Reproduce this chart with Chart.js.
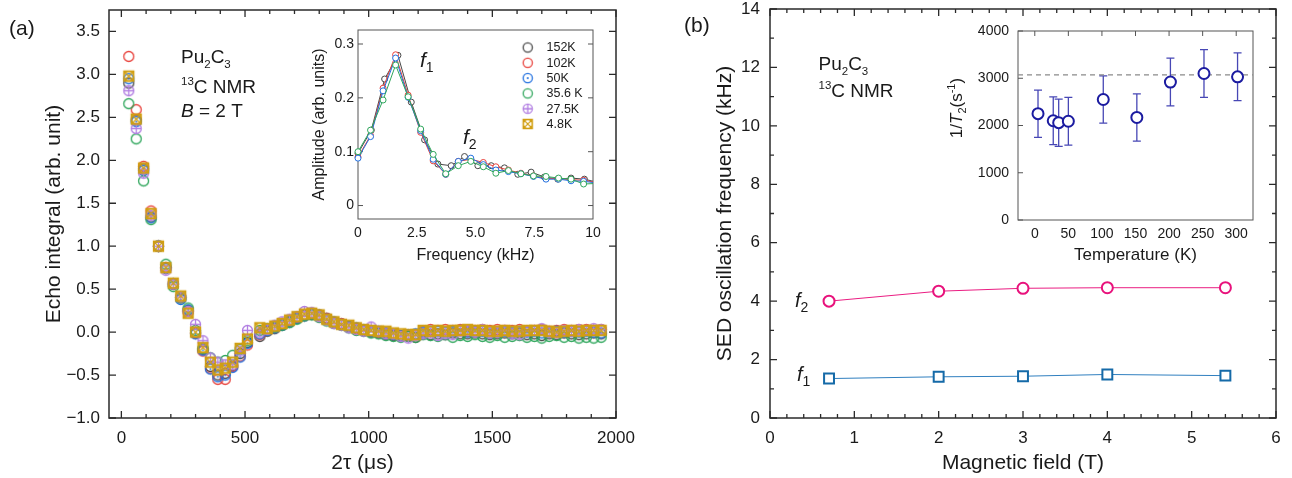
<!DOCTYPE html>
<html><head><meta charset="utf-8">
<script src="https://cdn.jsdelivr.net/npm/chart.js@4.4.1/dist/chart.umd.min.js"></script>
<style>
html,body{margin:0;padding:0;background:#fff;}
#wrap{position:relative;width:1292px;height:478px;overflow:hidden;background:#fff;}
canvas{position:absolute;}
</style></head><body>
<div id="wrap">
<canvas id="cA" width="640" height="478" style="left:0px;top:0px;width:640px;height:478px"></canvas>
<canvas id="cAi" width="311" height="255" style="left:290px;top:22px;width:311px;height:255px"></canvas>
<canvas id="cB" width="632" height="478" style="left:660px;top:0px;width:632px;height:478px"></canvas>
<canvas id="cBi" width="335" height="250" style="left:930px;top:20px;width:335px;height:250px"></canvas>
</div>
<script>
// ---------------- DATA ----------------
// Panel (a): echo integral vs 2tau (µs)
const tauUs = [30,60,90,120,150,180,210,240,270,300,330,360,390,420,450,480,510,
  560,590,620,650,680,710,740,770,800,830,860,890,920,950,980,1010,1040,1070,1100,1130,1160,1190,
  1220,1250,1280,1310,1340,1370,1400,1430,1460,1490,1520,1550,1580,1610,1640,1670,1700,1730,1760,
  1790,1820,1850,1880,1910,1940];
const temps = ['152K','102K','50K','35.6 K','27.5K','4.8K'];
const echo152 = [2.90,2.47,1.90,1.34,1.00,0.75,0.56,0.40,0.25,-0.01,-0.20,-0.40,-0.50,-0.48,-0.39,-0.25,-0.12,
  -0.05,0.01,0.04,0.08,0.12,0.16,0.19,0.21,0.20,0.16,0.11,0.09,0.06,0.04,0.02,0.00,-0.01,-0.03,-0.04,-0.05,-0.05,-0.06,
  -0.02,-0.03,-0.02,-0.03,-0.01,-0.02,-0.02,-0.01,-0.02,-0.03,-0.02,-0.01,-0.02,-0.01,-0.03,-0.02,-0.04,-0.02,-0.03,
  -0.01,-0.02,-0.03,-0.02,-0.01,-0.02];
const echo102 = [3.21,2.59,1.93,1.41,1.00,0.75,0.56,0.40,0.24,-0.01,-0.22,-0.42,-0.55,-0.55,-0.40,-0.28,-0.15,
  -0.03,0.03,0.06,0.09,0.13,0.17,0.20,0.21,0.19,0.16,0.11,0.10,0.06,0.04,0.02,0.01,0.00,-0.01,-0.03,-0.04,-0.04,-0.03,
  0.01,0.03,0.02,0.03,0.02,0.03,0.01,0.02,0.03,0.02,0.03,0.02,0.02,0.03,0.01,0.02,0.03,0.01,0.02,
  0.03,0.02,0.03,0.03,0.02,0.03];
const echo50 = [2.95,2.45,1.88,1.33,1.00,0.74,0.56,0.38,0.26,-0.02,-0.21,-0.43,-0.52,-0.50,-0.41,-0.29,-0.13,
  -0.02,0.02,0.05,0.08,0.12,0.16,0.19,0.21,0.19,0.15,0.12,0.09,0.07,0.05,0.03,0.01,0.01,-0.01,-0.03,-0.04,-0.03,-0.02,
  0.00,0.01,0.01,0.00,0.01,0.02,0.00,0.01,0.01,-0.01,0.00,0.01,0.00,0.01,0.00,0.01,-0.01,0.00,0.01,
  0.00,0.01,0.00,0.01,0.00,-0.01];
const echo35 = [2.66,2.25,1.76,1.31,1.00,0.79,0.53,0.40,0.28,0.02,-0.19,-0.30,-0.35,-0.33,-0.27,-0.20,-0.10,
  0.02,0.04,0.06,0.08,0.11,0.15,0.19,0.20,0.17,0.13,0.10,0.08,0.05,0.02,0.01,-0.01,-0.02,-0.04,-0.05,-0.06,-0.05,-0.06,
  -0.03,-0.04,-0.05,-0.03,-0.06,-0.04,-0.05,-0.03,-0.05,-0.06,-0.04,-0.06,-0.05,-0.04,-0.06,-0.05,-0.07,-0.05,-0.04,
  -0.06,-0.05,-0.07,-0.06,-0.07,-0.06];
const echo27 = [2.81,2.37,1.85,1.36,1.00,0.72,0.56,0.41,0.24,0.09,-0.10,-0.30,-0.35,-0.38,-0.38,-0.22,0.02,
  0.00,0.03,0.08,0.12,0.15,0.18,0.24,0.23,0.18,0.14,0.10,0.08,0.05,0.03,0.01,0.06,0.01,-0.02,-0.02,-0.05,-0.07,-0.04,
  -0.02,-0.01,-0.04,-0.02,-0.03,0.01,0.02,0.00,0.03,-0.01,0.00,0.02,-0.02,-0.03,0.01,0.02,0.04,0.00,-0.01,
  0.02,0.01,0.03,0.02,0.04,0.03];
const echo4 = [2.98,2.48,1.91,1.38,1.00,0.75,0.57,0.42,0.22,0.00,-0.18,-0.35,-0.44,-0.42,-0.35,-0.19,-0.08,
  0.05,0.04,0.07,0.10,0.14,0.18,0.21,0.22,0.20,0.15,0.12,0.09,0.08,0.05,0.03,0.02,0.01,0.01,-0.01,-0.02,-0.03,-0.03,
  0.02,0.01,0.02,0.01,0.02,0.02,0.03,0.02,0.02,0.01,0.01,0.02,0.01,0.01,0.02,0.02,0.02,0.01,0.00,
  0.01,0.02,0.01,0.02,0.02,0.02];
const xTicksA = [0,500,1000,1500,2000];
const xTickLabelsA = ['0','500','1000','1500','2000'];
const yTicksA = [-1,-0.5,0,0.5,1,1.5,2,2.5,3,3.5];
const yTickLabelsA = ['\u22121.0','\u22120.5','0.0','0.5','1.0','1.5','2.0','2.5','3.0','3.5'];

// Inset (a): FFT amplitude vs frequency (kHz)
const freqK = [0,0.533,1.067,1.6,2.133,2.667,3.2,3.733,4.267,4.8,5.333,5.867,6.4,6.933,7.467,8.0,8.533,9.067,9.6,10.133];
const freq152 = [0,0.567,1.133,1.7,2.267,2.833,3.4,3.967,4.533,5.1,5.667,6.233,6.8,7.367,7.933,8.5,9.067,9.633,10.2];
const amp152 = [0.097,0.140,0.235,0.279,0.192,0.122,0.077,0.074,0.091,0.074,0.074,0.070,0.058,0.062,0.053,0.049,0.051,0.049,0.043];
const amp102 = [0.090,0.130,0.218,0.280,0.205,0.136,0.083,0.058,0.082,0.086,0.080,0.072,0.066,0.060,0.055,0.050,0.050,0.048,0.047,0.043];
const amp50  = [0.088,0.128,0.213,0.274,0.201,0.139,0.086,0.058,0.082,0.088,0.076,0.066,0.063,0.059,0.054,0.049,0.049,0.046,0.045,0.042];
const amp35  = [0.100,0.140,0.196,0.261,0.202,0.142,0.095,0.059,0.074,0.082,0.072,0.060,0.065,0.059,0.055,0.054,0.051,0.049,0.040,0.041];
const xTicksAi = [0,2.5,5,7.5,10];
const xTickLabelsAi = ['0','2.5','5.0','7.5','10'];
const yTicksAi = [0,0.1,0.2,0.3];
const yTickLabelsAi = ['0','0.1','0.2','0.3'];

// Panel (b): SED oscillation frequency vs field
const fieldT = [0.7,2,3,4,5.4];
const freqF2 = [4.00,4.34,4.44,4.46,4.46];
const freqF1 = [1.35,1.41,1.43,1.49,1.45];
const xTicksB = [0,1,2,3,4,5,6];
const yTicksB = [0,2,4,6,8,10,12,14];

// Inset (b): 1/T2 vs temperature
const tempK = [4.8,27.5,35.6,50,102,152,202,252,302];
const invT2 = [2250,2100,2060,2090,2550,2170,2920,3100,3030];
const invT2Err = [500,505,500,505,500,500,505,505,505];
const invT2Level = 3070;
const xTicksBi = [0,50,100,150,200,250,300];
const yTicksBi = [0,1000,2000,3000,4000];

// ---------------- STYLE / HELPERS ----------------
const FONT = '"Liberation Sans", Arial, Helvetica, sans-serif';
Chart.defaults.font.family = FONT;
Chart.defaults.color = '#1a1a1a';
const colors = ['#474747','#e8413b','#2170e0','#2fa65c','#b27fe2','#d19f12'];
const kinds = ['circle','circle','circleDot','circle','circlePlus','squareX'];

function makeMarker(kind, color, r, lw){
  const s = Math.ceil(2*r + lw + 3);
  const c = document.createElement('canvas'); c.width = s; c.height = s;
  const g = c.getContext('2d'); const m = s/2;
  g.strokeStyle = color; g.fillStyle = color; g.lineWidth = lw;
  if (kind === 'squareX') {
    g.beginPath(); g.rect(m-r, m-r, 2*r, 2*r); g.stroke();
    g.beginPath(); g.moveTo(m-r,m-r); g.lineTo(m+r,m+r); g.moveTo(m+r,m-r); g.lineTo(m-r,m+r); g.stroke();
    g.beginPath(); g.arc(m,m,r*0.95,0,2*Math.PI); g.stroke();
  } else {
    g.beginPath(); g.arc(m,m,r,0,2*Math.PI); g.stroke();
    if (kind === 'circleDot') { g.beginPath(); g.arc(m,m,Math.max(1,lw*0.8),0,2*Math.PI); g.fill(); }
    if (kind === 'circlePlus') { g.beginPath(); g.moveTo(m-r,m); g.lineTo(m+r,m); g.moveTo(m,m-r); g.lineTo(m,m+r); g.stroke(); }
  }
  return c;
}

const frameTicks = {
  id: 'frameTicks',
  beforeDatasetsDraw(chart, args, o) {
    const {ctx, chartArea: a, scales} = chart;
    ctx.save();
    ctx.strokeStyle = o.color; ctx.lineWidth = o.width;
    ctx.strokeRect(a.left, a.top, a.right - a.left, a.bottom - a.top);
    ctx.lineWidth = o.tickWidth || o.width;
    (o.sides || []).forEach(sd => {
      const sc = scales[sd.scale];
      const majors = sc.ticks.map(t => t.value);
      const vals = majors.map(v => [v, sd.len]);
      if (sd.minorStep) {
        const st = sd.minorStep;
        for (let v = Math.ceil(sc.min / st) * st; v <= sc.max + 1e-9; v += st) {
          if (!majors.some(m => Math.abs(m - v) < st * 1e-3)) vals.push([v, sd.minorLen]);
        }
      }
      ctx.beginPath();
      vals.forEach(([v, L]) => {
        const p = sc.getPixelForValue(v);
        if (sd.side === 'bottom') { ctx.moveTo(p, a.bottom); ctx.lineTo(p, a.bottom - L); }
        if (sd.side === 'top') { ctx.moveTo(p, a.top); ctx.lineTo(p, a.top + L); }
        if (sd.side === 'left') { ctx.moveTo(a.left, p); ctx.lineTo(a.left + L, p); }
        if (sd.side === 'right') { ctx.moveTo(a.right, p); ctx.lineTo(a.right - L, p); }
      });
      ctx.stroke();
    });
    ctx.restore();
  }
};

function drawRich(ctx, it) {
  ctx.save();
  ctx.translate(it.x, it.y);
  if (it.rotate) ctx.rotate(it.rotate);
  ctx.fillStyle = it.color || '#1a1a1a';
  ctx.textBaseline = 'alphabetic';
  ctx.textAlign = 'left';
  const size = it.size;
  const parts = it.parts.map(p => {
    const sz = p.pos === 'sub' || p.pos === 'sup' ? (p.sz || size * 0.6) : size;
    const font = (p.it ? 'italic ' : '') + sz + 'px ' + FONT;
    ctx.font = font;
    const w = ctx.measureText(p.t).width;
    const dy = p.pos === 'sub' ? (p.dy != null ? p.dy : size * 0.22) : p.pos === 'sup' ? -(p.dy != null ? p.dy : size * 0.36) : 0;
    return {t: p.t, font, w, dy};
  });
  let x = 0;
  if (it.align === 'center') x = -parts.reduce((s, p) => s + p.w, 0) / 2;
  parts.forEach(p => { ctx.font = p.font; ctx.fillText(p.t, x, p.dy); x += p.w; });
  ctx.restore();
}
const richText = {
  id: 'richText',
  afterDraw(chart, args, o) { (o.items || []).forEach(it => drawRich(chart.ctx, it)); }
};

const insetLegend = {
  id: 'insetLegend',
  afterDraw(chart, args, o) {
    const ctx = chart.ctx;
    ctx.save();
    ctx.font = o.size + 'px ' + FONT; ctx.fillStyle = '#1a1a1a';
    ctx.textBaseline = 'middle'; ctx.textAlign = 'left';
    o.labels.forEach((lab, i) => {
      const y = o.y + i * o.dy;
      const img = o.markers[i];
      ctx.drawImage(img, o.x - img.width / 2, y - img.height / 2);
      ctx.fillText(lab, o.tx, y + 0.5);
    });
    ctx.restore();
  }
};

const errorBars = {
  id: 'errorBars',
  beforeDatasetsDraw(chart, args, o) {
    const {ctx, scales: {x, y}} = chart;
    const ds = chart.data.datasets[o.dataset];
    ctx.save();
    ctx.strokeStyle = o.color; ctx.lineWidth = o.width;
    ctx.beginPath();
    ds.data.forEach((p, i) => {
      const px = x.getPixelForValue(p.x);
      const y1 = y.getPixelForValue(p.y - o.errors[i]);
      const y2 = y.getPixelForValue(p.y + o.errors[i]);
      ctx.moveTo(px, y1); ctx.lineTo(px, y2);
      ctx.moveTo(px - o.cap, y1); ctx.lineTo(px + o.cap, y1);
      ctx.moveTo(px - o.cap, y2); ctx.lineTo(px + o.cap, y2);
    });
    ctx.stroke();
    ctx.restore();
  }
};

function linAxis(opt) {
  return {
    type: 'linear', min: opt.min, max: opt.max, position: opt.position,
    afterBuildTicks: s => { s.ticks = opt.ticks.map(v => ({value: v})); },
    ticks: { font: {size: opt.font}, padding: opt.pad, autoSkip: false, maxRotation: 0, color: '#1a1a1a',
      callback: (v, i) => opt.labels ? opt.labels[i] : String(v) },
    grid: { display: false, drawTicks: false },
    border: { display: false },
    title: opt.title ? { display: true, text: opt.title, font: {size: opt.tsize}, color: '#1a1a1a',
      padding: opt.position === 'left' ? {top: opt.tpad, bottom: 0} : {top: 0, bottom: opt.tpad} } : {display: false},
    afterFit: s => {
      if (opt.position === 'left') s.width = opt.size; else s.height = opt.size;
      s.paddingLeft = 0; s.paddingRight = 0; s.paddingTop = 0; s.paddingBottom = 0;
    }
  };
}
const baseOpts = { responsive: false, animation: false, devicePixelRatio: 1, events: [] };

// ---------------- PANEL (a) ----------------
const echoSeries = [echo152, echo102, echo50, echo35, echo27, echo4];
const markersA = echoSeries.map((s, i) => makeMarker(kinds[i], colors[i], 5, 1.3));
new Chart(document.getElementById('cA'), {
  type: 'scatter',
  data: { datasets: echoSeries.map((s, i) => ({
    label: temps[i], data: tauUs.map((x, j) => ({x, y: s[j]})),
    pointStyle: markersA[i], pointRadius: 5, showLine: false, order: 6 - i
  })) },
  options: Object.assign({}, baseOpts, {
    layout: { padding: {left: 0, right: 24, top: 10, bottom: 0} },
    plugins: {
      legend: {display: false}, tooltip: {enabled: false},
      frameTicks: { color: '#2a2a2a', width: 1.5, tickWidth: 1.3, sides: [
        {side: 'bottom', scale: 'x', len: 7, minorStep: 100, minorLen: 4},
        {side: 'top', scale: 'x', len: 7, minorStep: 100, minorLen: 4},
        {side: 'left', scale: 'y', len: 7}, {side: 'right', scale: 'y', len: 7}] },
      richText: { items: [
        {x: 9, y: 35, size: 21, parts: [{t: '(a)'}]},
        {x: 181, y: 63, size: 19, parts: [{t: 'Pu'}, {t: '2', pos: 'sub', sz: 11.5, dy: 5}, {t: 'C'}, {t: '3', pos: 'sub', sz: 11.5, dy: 5}]},
        {x: 181, y: 93, size: 19, parts: [{t: '13', pos: 'sup', sz: 11.5, dy: 8}, {t: 'C NMR'}]},
        {x: 181, y: 117, size: 19, parts: [{t: 'B', it: true}, {t: ' = 2 T'}]}
      ] }
    },
    scales: {
      x: linAxis({min: -50, max: 2000, position: 'bottom', ticks: xTicksA, labels: xTickLabelsA, font: 17, pad: 10,
        title: '2\u03c4 (\u03bcs)', tsize: 21, tpad: 2, size: 60}),
      y: linAxis({min: -1, max: 3.75, position: 'left', ticks: yTicksA, labels: yTickLabelsA, font: 17, pad: 9,
        title: 'Echo integral (arb. unit)', tsize: 21, tpad: 42, size: 109})
    }
  }),
  plugins: [frameTicks, richText]
});

// ---------------- INSET (a) ----------------
const ampSeries = [
  {lab: temps[0], xs: freq152, ys: amp152, c: colors[0]},
  {lab: temps[1], xs: freqK, ys: amp102, c: colors[1]},
  {lab: temps[2], xs: freqK, ys: amp50, c: colors[2]},
  {lab: temps[3], xs: freqK, ys: amp35, c: colors[3]}
];
const legendMarkers = temps.map((t, i) => makeMarker(kinds[i], colors[i], 4.6, 1.3));
new Chart(document.getElementById('cAi'), {
  type: 'scatter',
  data: { datasets: ampSeries.map((s, i) => ({
    label: s.lab, data: s.xs.map((x, j) => ({x, y: s.ys[j]})),
    showLine: true, tension: 0, borderColor: s.c, borderWidth: 1,
    pointStyle: 'circle', pointRadius: 3, pointBorderWidth: 1, pointBorderColor: s.c, pointBackgroundColor: '#fff',
    clip: {left: 6, top: 6, bottom: 6, right: 0}, order: 4 - i
  })) },
  options: Object.assign({}, baseOpts, {
    layout: { padding: {left: 0, right: 8, top: 8, bottom: 0} },
    plugins: {
      legend: {display: false}, tooltip: {enabled: false},
      frameTicks: { color: '#555', width: 1, sides: [
        {side: 'left', scale: 'y', len: 5}, {side: 'right', scale: 'y', len: 5}] },
      insetLegend: { labels: temps, markers: legendMarkers, x: 237.7, y: 25.5, dy: 15.3, tx: 256.5, size: 12.5 },
      richText: { items: [
        {x: 130, y: 45, size: 21, parts: [{t: 'f', it: true}, {t: '1', pos: 'sub', sz: 14, dy: 5}]},
        {x: 173, y: 121.5, size: 21, parts: [{t: 'f', it: true}, {t: '2', pos: 'sub', sz: 14, dy: 5}]}
      ] }
    },
    scales: {
      x: linAxis({min: 0, max: 10, position: 'bottom', ticks: xTicksAi, labels: xTickLabelsAi, font: 14, pad: 6,
        title: 'Frequency (kHz)', tsize: 16, tpad: 12, size: 58}),
      y: linAxis({min: -0.025, max: 0.326, position: 'left', ticks: yTicksAi, labels: yTickLabelsAi, font: 14, pad: 4,
        title: 'Amplitude (arb. units)', tsize: 16, tpad: 20, size: 68})
    }
  }),
  plugins: [frameTicks, richText, insetLegend]
});

// ---------------- PANEL (b) ----------------
new Chart(document.getElementById('cB'), {
  type: 'scatter',
  data: { datasets: [
    { label: 'f2', data: fieldT.map((x, j) => ({x, y: freqF2[j]})), showLine: true, borderColor: '#ea1d82', borderWidth: 1,
      pointStyle: 'circle', pointRadius: 5.5, pointBorderWidth: 2, pointBorderColor: '#e8127c', pointBackgroundColor: '#fff' },
    { label: 'f1', data: fieldT.map((x, j) => ({x, y: freqF1[j]})), showLine: true, borderColor: '#2f7fbf', borderWidth: 1,
      pointStyle: 'rect', pointRadius: 7, pointBorderWidth: 2, pointBorderColor: '#156aa8', pointBackgroundColor: '#fff' }
  ] },
  options: Object.assign({}, baseOpts, {
    layout: { padding: {left: 0, right: 16, top: 9, bottom: 0} },
    plugins: {
      legend: {display: false}, tooltip: {enabled: false},
      frameTicks: { color: '#2a2a2a', width: 1.5, tickWidth: 1.3, sides: [
        {side: 'bottom', scale: 'x', len: 7, minorStep: 0.2, minorLen: 4},
        {side: 'top', scale: 'x', len: 7, minorStep: 0.2, minorLen: 4},
        {side: 'left', scale: 'y', len: 7, minorStep: 1, minorLen: 4},
        {side: 'right', scale: 'y', len: 7, minorStep: 1, minorLen: 4}] },
      richText: { items: [
        {x: 24, y: 31.5, size: 21, parts: [{t: '(b)'}]},
        {x: 158.5, y: 69.5, size: 19, parts: [{t: 'Pu'}, {t: '2', pos: 'sub', sz: 11.5, dy: 5}, {t: 'C'}, {t: '3', pos: 'sub', sz: 11.5, dy: 5}]},
        {x: 158.5, y: 97, size: 19, parts: [{t: '13', pos: 'sup', sz: 11.5, dy: 8}, {t: 'C NMR'}]},
        {x: 135, y: 307, size: 20, parts: [{t: 'f', it: true}, {t: '2', pos: 'sub', sz: 14, dy: 5}]},
        {x: 137, y: 380.5, size: 20, parts: [{t: 'f', it: true}, {t: '1', pos: 'sub', sz: 14, dy: 5}]}
      ] }
    },
    scales: {
      x: linAxis({min: 0, max: 6, position: 'bottom', ticks: xTicksB, font: 17, pad: 10,
        title: 'Magnetic field (T)', tsize: 21, tpad: 2, size: 60}),
      y: linAxis({min: 0, max: 14, position: 'left', ticks: yTicksB, font: 17, pad: 10,
        title: 'SED oscillation frequency (kHz)', tsize: 21, tpad: 53, size: 110})
    }
  }),
  plugins: [frameTicks, richText]
});

// ---------------- INSET (b) ----------------
new Chart(document.getElementById('cBi'), {
  type: 'scatter',
  data: { datasets: [
    { label: '1/T2', data: tempK.map((x, j) => ({x, y: invT2[j]})), showLine: false,
      pointStyle: 'circle', pointRadius: 5.5, pointBorderWidth: 2, pointBorderColor: '#1b1ba0', pointBackgroundColor: '#fff', order: 0 },
    { label: 'level', data: [{x: -25, y: invT2Level}, {x: 325, y: invT2Level}], showLine: true, borderColor: '#8a8a8a',
      borderWidth: 1.2, borderDash: [5, 4], pointRadius: 0, order: 1 }
  ] },
  options: Object.assign({}, baseOpts, {
    layout: { padding: {left: 0, right: 12, top: 11, bottom: 0} },
    plugins: {
      legend: {display: false}, tooltip: {enabled: false},
      errorBars: { dataset: 0, errors: invT2Err, color: '#4747b5', width: 1.3, cap: 4 },
      frameTicks: { color: '#555', width: 1, sides: [
        {side: 'left', scale: 'y', len: 5}, {side: 'top', scale: 'x', len: 5}] },
      richText: { items: [
        {x: 32, y: 88, size: 17, rotate: -Math.PI / 2, align: 'center', parts: [
          {t: '1/'}, {t: 'T', it: true}, {t: '2', pos: 'sub', sz: 11, dy: 4}, {t: '(s'}, {t: '-1', pos: 'sup', sz: 11, dy: 7}, {t: ')'}]}
      ] }
    },
    scales: {
      x: linAxis({min: -25, max: 325, position: 'bottom', ticks: xTicksBi, font: 14, pad: 6,
        title: 'Temperature (K)', tsize: 17, tpad: 4, size: 50}),
      y: linAxis({min: 0, max: 4000, position: 'left', ticks: yTicksBi, font: 14, pad: 9, size: 88})
    }
  }),
  plugins: [errorBars, frameTicks, richText]
});
</script>
</body></html>
